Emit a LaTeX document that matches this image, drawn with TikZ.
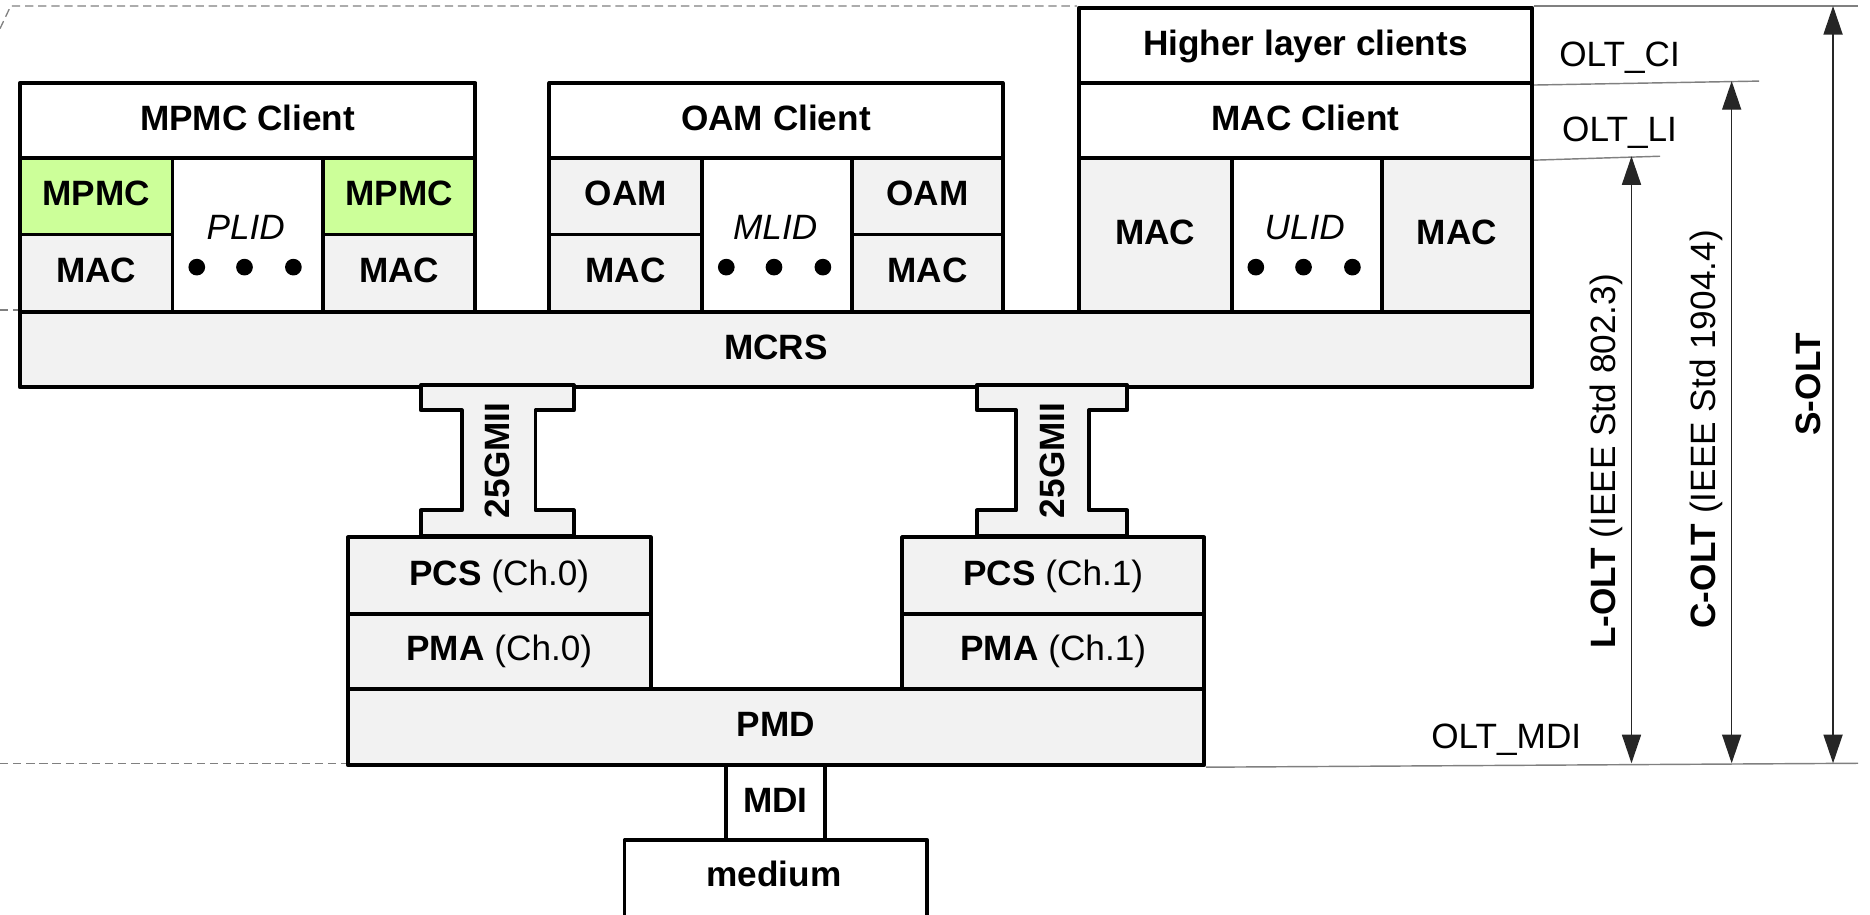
\documentclass[tikz,border=0pt]{standalone}
\usepackage{fontspec}
\setmainfont{Liberation Sans}
\usetikzlibrary{arrows.meta}
\definecolor{boxgray}{HTML}{F2F2F2}
\definecolor{mpmcgreen}{HTML}{CCFF99}
\definecolor{guide}{HTML}{808080}
\newcommand{\blk}[7]{\node[#1, minimum width={(#4-#2)*1pt}, minimum height={(#5-#3)*1pt}, anchor=north west] (#6) at (#2,#3) {#7};}
\tikzset{
  base/.style={draw=black, line width=3.3pt, line join=round, inner sep=0pt, text height=21pt, text depth=5pt,
    font=\fontsize{29.5}{34}\selectfont\bfseries},
  wbox/.style={base, fill=white},
  gbox/.style={base, fill=boxgray},
  greenbox/.style={base, fill=mpmcgreen},
  lbl/.style={inner sep=0pt, font=\fontsize{29.5}{34}\selectfont},
  guideline/.style={draw=guide, line width=1.2pt},
  dashguide/.style={draw=guide, line width=1.1pt, dash pattern=on 7pt off 4pt},
  dimarrow/.style={draw=black!85, line width=1.2pt, {Triangle[length=24pt,width=16pt]}-{Triangle[length=24pt,width=16pt]}},
  iface/.style={draw=black, line width=3.3pt, fill=boxgray, line join=round},
  dot/.style={circle, fill=black, inner sep=0pt, minimum size=14pt}
}
\begin{document}
\begin{tikzpicture}[x=1pt,y=-1pt]
\useasboundingbox (0,0) rectangle (1568,767.2);
% guide lines
\draw[dashguide] (0,24) -- (9,5) -- (903,5);
\draw[dashguide] (0,260) -- (15,260);
\draw[dashguide] (0,640) -- (290,640);
\coordinate (ciR) at (1475,68);
\coordinate (liR) at (1392,131);
\coordinate (topR) at (1558,5);
\coordinate (mdiR) at (1558,640);
% left block
\blk{wbox}{15}{68}{397}{131}{mpmcc}{MPMC Client}
\blk{greenbox}{15}{131}{143}{195}{mpmcA}{MPMC}
\blk{gbox}{15}{195}{143}{260}{macA}{MAC}
\blk{wbox}{143}{131}{269}{260}{plid}{}
\blk{greenbox}{269}{131}{397}{195}{mpmcB}{MPMC}
\blk{gbox}{269}{195}{397}{260}{macB}{MAC}
\node[lbl, font=\fontsize{29.5}{34}\selectfont\itshape] (plidt) at (206,191) {PLID};
\node[dot] (pd1) at (165,224) {};
\node[dot] (pd2) at (205,224) {};
\node[dot] (pd3) at (246,224) {};
% middle block
\blk{wbox}{459}{68}{839}{131}{oamc}{OAM Client}
\blk{gbox}{459}{131}{587}{195}{oamA}{OAM}
\blk{gbox}{459}{195}{587}{260}{macC}{MAC}
\blk{wbox}{587}{131}{713}{260}{mlid}{}
\blk{gbox}{713}{131}{839}{195}{oamB}{OAM}
\blk{gbox}{713}{195}{839}{260}{macD}{MAC}
\node[lbl, font=\fontsize{29.5}{34}\selectfont\itshape] (mlidt) at (650,191) {MLID};
\node[dot] (md1) at (609,224) {};
\node[dot] (md2) at (649,224) {};
\node[dot] (md3) at (690,224) {};
% right block
\blk{wbox}{903}{5}{1283}{68}{hlc}{Higher layer clients}
\blk{wbox}{903}{68}{1283}{131}{macc}{MAC Client}
\blk{gbox}{903}{131}{1031}{260}{macE}{MAC}
\blk{wbox}{1031}{131}{1157}{260}{ulid}{}
\blk{gbox}{1157}{131}{1283}{260}{macF}{MAC}
\node[lbl, font=\fontsize{29.5}{34}\selectfont\itshape] (ulidt) at (1094,191) {ULID};
\node[dot] (ud1) at (1053,224) {};
\node[dot] (ud2) at (1093,224) {};
\node[dot] (ud3) at (1134,224) {};
% MCRS
\blk{gbox}{15}{260}{1283}{323}{mcrs}{MCRS}
% PHY
\blk{gbox}{290}{449}{544}{513}{pcsA}{PCS \mdseries(Ch.0)}
\blk{gbox}{290}{513}{544}{576}{pmaA}{PMA \mdseries(Ch.0)}
\blk{gbox}{755}{449}{1008}{513}{pcsB}{PCS \mdseries(Ch.1)}
\blk{gbox}{755}{513}{1008}{576}{pmaB}{PMA \mdseries(Ch.1)}
\blk{gbox}{290}{576}{1008}{640}{pmd}{PMD}
\blk{wbox}{607}{640}{690}{703}{mdi}{MDI}
\blk{wbox}{522}{703}{776}{771}{medium}{}
\node[lbl, font=\fontsize{29.5}{34}\selectfont\bfseries, text height=21pt, text depth=0pt] (mediumt) at (649,733) {medium};
% 25GMII interfaces
\draw[iface] (353,323) -- (481,323) -- (481,344) -- (449,344) -- (449,428) -- (481,428) -- (481,449)
  -- (353,449) -- (353,428) -- (387,428) -- (387,344) -- (353,344) -- cycle;
\node[lbl, font=\fontsize{29.5}{34}\selectfont\bfseries, rotate=90] (gmiiA) at (417,386) {25GMII};
\draw[iface] (819,323) -- (945,323) -- (945,344) -- (913,344) -- (913,428) -- (945,428) -- (945,449)
  -- (819,449) -- (819,428) -- (852,428) -- (852,344) -- (819,344) -- cycle;
\node[lbl, font=\fontsize{29.5}{34}\selectfont\bfseries, rotate=90] (gmiiB) at (882,386) {25GMII};
% reference lines
\draw[guideline] (hlc.north east) -- (topR);
\draw[guideline] (hlc.south east) -- (ciR);
\draw[guideline] (macc.south east) -- (liR);
\draw[guideline] (pmd.south east) -- (mdiR);
\node[lbl] (olci) at (1358,48) {OLT\_CI};
\node[lbl] (olli) at (1358,111) {OLT\_LI};
\node[lbl] (olmdi) at (1263,620) {OLT\_MDI};
% dimension arrows
\coordinate (lA) at (1368,131); \coordinate (lB) at (1368,640);
\coordinate (cA) at (1452,68);  \coordinate (cB) at (1452,640);
\coordinate (sA) at (1537,5);   \coordinate (sB) at (1537,640);
\draw[dimarrow] (lA) -- (lB);
\draw[dimarrow] (cA) -- (cB);
\draw[dimarrow] (sA) -- (sB);
\node[lbl, rotate=90] (lolt) at (1347,387) {\textbf{L-OLT} (IEEE Std 802.3)};
\node[lbl, rotate=90] (colt) at (1431,360) {\textbf{C-OLT} (IEEE Std 1904.4)};
\node[lbl, rotate=90] (solt) at (1516,322) {\textbf{S-OLT}};
\end{tikzpicture}
\end{document}
